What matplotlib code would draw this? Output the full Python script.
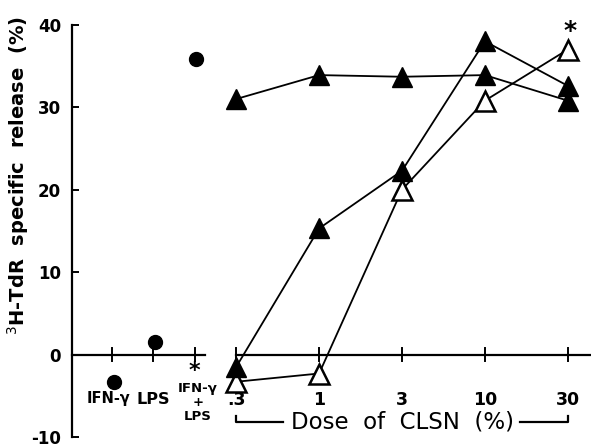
import matplotlib.pyplot as plt

# control groups (left) and CLSN dose groups (right)
controls = ['IFN-γ', 'LPS', 'IFN-γ\n+\nLPS']
control_vals = [-3.3, 1.5, 35.8]

doses = ['.3', '1', '3', '10', '30']
flat_filled = [31.0, 33.9, 33.7, 33.9, 30.8]
rising_filled = [-1.5, 15.3, 22.3, 38.0, 32.6]
open_tri = [-3.3, -2.3, 20.0, 30.8, 37.0]

ctrl_x = [-1.5, -1.0, -0.5]
dose_x = list(range(len(doses)))

fig = plt.figure(figsize=(5.91, 4.48), dpi=100)
ax = fig.add_axes([0.122, 0.0246, 0.878, 0.92])
ax.set_xlim(-1.98, 4.28)
ax.set_ylim(-10, 40)

for s in ['top', 'right', 'bottom']:
    ax.spines[s].set_visible(False)
ax.spines['left'].set_linewidth(1.6)
ax.set_xticks([])
ax.set_yticks([-10, 0, 10, 20, 30, 40])
ax.set_yticklabels(['-10', '0', '10', '20', '30', '40'], fontsize=12, fontweight='bold')
ax.tick_params(axis='y', direction='in', length=5, width=1.4, pad=8)
ax.set_ylabel('$^{3}$H-TdR  specific  release  (%)', fontsize=14, fontweight='bold')
ax.yaxis.set_label_coords(-0.08, 0.635)

# zero lines with ticks
ax.plot([-1.98, -0.38], [0, 0], color='black', lw=1.6, clip_on=False)
ax.plot([0, 4.28], [0, 0], color='black', lw=1.6, clip_on=False)
for x in ctrl_x + dose_x:
    ax.plot([x, x], [-0.8, 0.8], color='black', lw=1.4)

# series
ax.plot(dose_x, flat_filled, color='black', lw=1.3, marker='^', ms=14, mfc='black', mec='black', zorder=3)
ax.plot(dose_x, open_tri, color='black', lw=1.3, marker='^', ms=14, mfc='white', mec='black', mew=1.8, zorder=4)
ax.plot(dose_x, rising_filled, color='black', lw=1.3, marker='^', ms=14, mfc='black', mec='black', zorder=5)
ax.plot([x + 0.02 for x in ctrl_x], control_vals, 'o', color='black', ms=10, zorder=3)

# asterisks
ax.text(-0.5, -2.0, '*', ha='center', va='center', fontsize=16, fontweight='bold')
ax.text(4.03, 39.3, '*', ha='center', va='center', fontsize=18, fontweight='bold', clip_on=False)

# category labels
ax.text(-1.54, -5.3, controls[0], ha='center', va='center', fontsize=10.5, fontweight='bold')
ax.text(-1.0, -5.4, controls[1], ha='center', va='center', fontsize=11.5, fontweight='bold')
combo = controls[2].split('\n')
for yy, part in zip([-4.1, -5.8, -7.5], combo):
    ax.text(-0.46, yy, part, ha='center', va='center', fontsize=9.5, fontweight='bold')
for x, lab in zip(dose_x, doses):
    ax.text(x, -5.5, lab, ha='center', va='center', fontsize=12.5, fontweight='bold')

# bracket with dose label
ax.plot([0, 0, 0.57], [-7.4, -8.2, -8.2], color='black', lw=1.6, clip_on=False)
ax.plot([3.42, 4, 4], [-8.2, -8.2, -7.4], color='black', lw=1.6, clip_on=False)
ax.text(2, -8.2, 'Dose  of  CLSN  (%)', ha='center', va='center', fontsize=16.5, clip_on=False)

fig.savefig('out.png', dpi=100)
